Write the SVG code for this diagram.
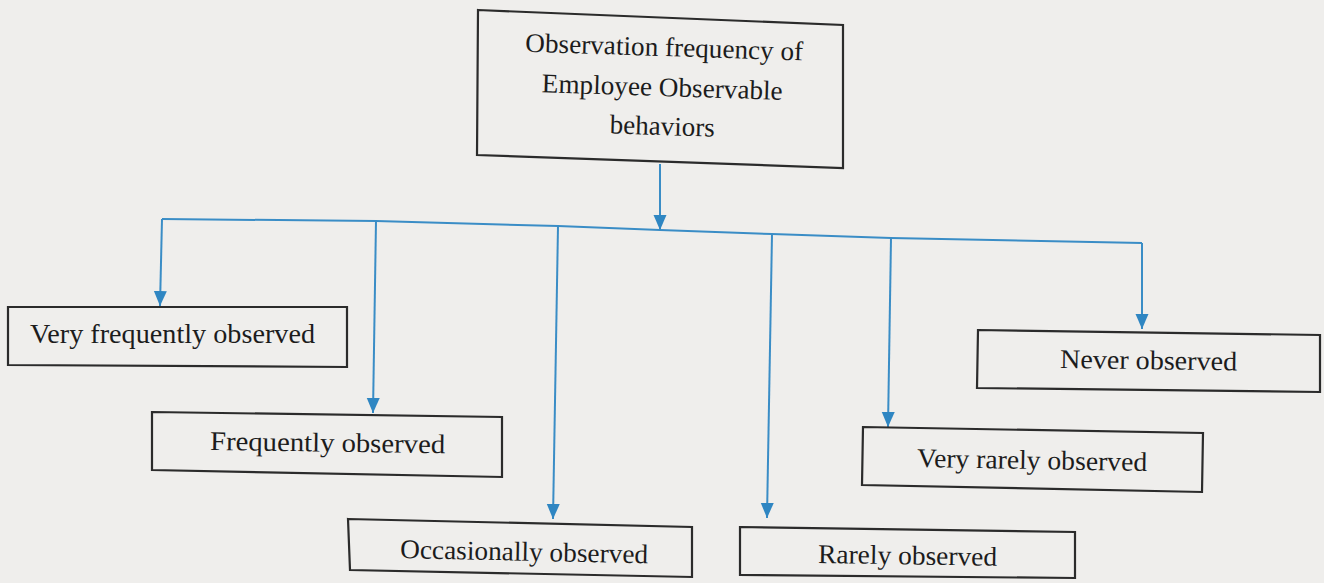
<svg xmlns="http://www.w3.org/2000/svg" width="1324" height="583" viewBox="0 0 1324 583">
  <defs>
    <style>
      .box { fill: none; stroke: #2b2b2b; stroke-width: 2.2; stroke-linejoin: miter; }
      .lbl { font-family: 'Liberation Serif', 'DejaVu Serif', serif; font-size: 27px; fill: #1c1c1c; }
      .wire { fill: none; stroke: #3a8dc6; stroke-width: 2; }
      .drop { fill: none; stroke: #3a8dc6; stroke-width: 2; marker-end: url(#tip); }
    </style>
    <marker id="tip" markerUnits="userSpaceOnUse" markerWidth="15" markerHeight="14" viewBox="0 0 15 14" refX="15" refY="7" orient="auto">
      <path d="M0,0.5 L15,7 L0,13.5 z" fill="#2f86c2"/>
    </marker>
  </defs>

  <rect x="0" y="0" width="1324" height="583" fill="#efeeec"/>

  <!-- root node -->
  <g id="root">
    <path class="box" d="M478,10 L843,25 L843,168 L477,155 Z"/>
    <text class="lbl" x="664" y="56" text-anchor="middle" textLength="278" lengthAdjust="spacingAndGlyphs" transform="rotate(1.8 664 56)">Observation frequency of</text>
    <text class="lbl" x="662" y="96" text-anchor="middle" textLength="241" lengthAdjust="spacingAndGlyphs" transform="rotate(1.8 662 96)">Employee Observable</text>
    <text class="lbl" x="662" y="135" text-anchor="middle" textLength="105" lengthAdjust="spacingAndGlyphs" transform="rotate(1.8 662 135)">behaviors</text>
  </g>

  <!-- connectors -->
  <g id="connectors">
    <path class="drop" d="M660,164 L660,230"/>
    <polyline class="wire" points="162,219 376,221 558,226 660,230 772,234 891,238 1142,243"/>
    <path class="drop" d="M162,219 L160,306"/>
    <path class="drop" d="M376,221 L373,413"/>
    <path class="drop" d="M558,226 L553,519"/>
    <path class="drop" d="M772,234 L767,518"/>
    <path class="drop" d="M891,238 L888,427"/>
    <path class="drop" d="M1142,243 L1142,329"/>
  </g>

  <!-- category nodes -->
  <g id="very-frequently">
    <path class="box" d="M8,307 L347,307 L347,367 L8,365 Z"/>
    <text class="lbl" x="30" y="343" textLength="285" lengthAdjust="spacingAndGlyphs">Very frequently observed</text>
  </g>

  <g id="frequently">
    <path class="box" d="M152,412 L502,417 L502,477 L152,470 Z"/>
    <text class="lbl" x="210" y="450" textLength="235" lengthAdjust="spacingAndGlyphs" transform="rotate(0.8 210 450)">Frequently observed</text>
  </g>

  <g id="occasionally">
    <path class="box" d="M348,519 L692,527 L692,577 L350,570 Z"/>
    <text class="lbl" x="400" y="558" textLength="248" lengthAdjust="spacingAndGlyphs" transform="rotate(1.2 400 558)">Occasionally observed</text>
  </g>

  <g id="rarely">
    <path class="box" d="M740,527 L1075,532 L1075,578 L740,575 Z"/>
    <text class="lbl" x="818" y="563" textLength="179" lengthAdjust="spacingAndGlyphs" transform="rotate(0.9 818 563)">Rarely observed</text>
  </g>

  <g id="very-rarely">
    <path class="box" d="M863,427 L1203,433 L1202,492 L862,485 Z"/>
    <text class="lbl" x="917" y="467" textLength="230" lengthAdjust="spacingAndGlyphs" transform="rotate(1 917 467)">Very rarely observed</text>
  </g>

  <g id="never">
    <path class="box" d="M978,330 L1320,335 L1320,392 L977,388 Z"/>
    <text class="lbl" x="1060" y="368" textLength="177" lengthAdjust="spacingAndGlyphs" transform="rotate(0.8 1060 368)">Never observed</text>
  </g>
</svg>
